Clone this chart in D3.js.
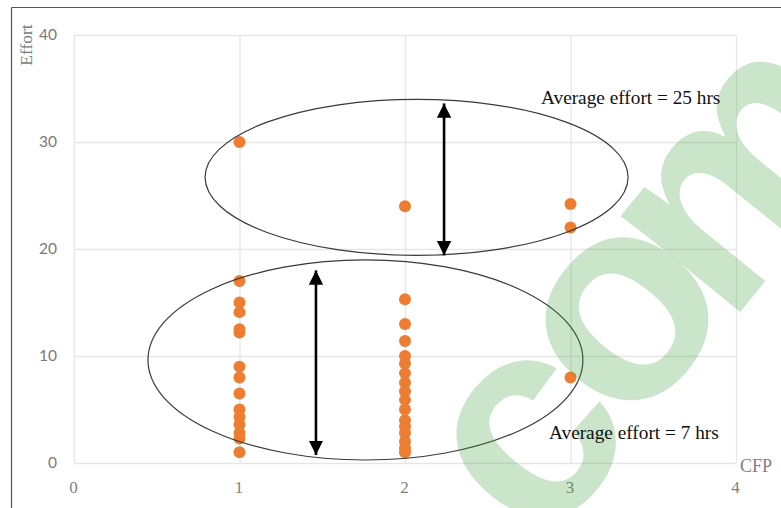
<!DOCTYPE html>
<html><head><meta charset="utf-8">
<script src="https://cdn.jsdelivr.net/npm/d3@7"></script>
<style>body{margin:0;background:#fff;}svg{display:block;}</style>
</head><body>
<svg id="c" width="781" height="508"></svg>
<script>
// ---- data ----
const xTicks = [0, 1, 2, 3, 4];
const yTicks = [0, 10, 20, 30, 40];
const cfp1 = [30, 17, 15, 14.1, 12.5, 12.2, 9, 8, 6.5, 5, 4.3, 3.6, 2.8, 2.3, 1];
const cfp2 = [24, 15.3, 13, 11.4, 10, 9.3, 8.4, 7.5, 6.7, 5.9, 5, 4, 3.4, 2.8, 2, 1.4, 1];
const cfp3 = [24.2, 22, 8];
const xLabel = "CFP";
const yLabel = "Effort";
const groups = [
  {cx: 2.07, cy: 26.7, rx: 1.278, ry: 7.29, arrowX: 2.236, y0: 19.4, y1: 33.6, label: "Average effort = 25 hrs"},
  {cx: 1.761, cy: 9.63, rx: 1.314, ry: 9.35, arrowX: 1.462, y0: 0.75, y1: 18.0, label: "Average effort = 7 hrs"}
];

const points = [
  ...cfp1.map(v => ({x: 1, y: v})),
  ...cfp2.map(v => ({x: 2, y: v})),
  ...cfp3.map(v => ({x: 3, y: v}))
];

const svg = d3.select("#c");
const m = {left: 74, top: 35, right: 45, bottom: 45};
const W = 781 - m.left - m.right, H = 508 - m.top - m.bottom;
const x = d3.scaleLinear().domain([0, 4]).range([0, W]);
const y = d3.scaleLinear().domain([0, 40]).range([H, 0]);

// frame
svg.append("line").attr("x1", 11.5).attr("x2", 11.5).attr("y1", 7.5).attr("y2", 508).attr("stroke", "#555").attr("stroke-width", 1.2);
svg.append("line").attr("x1", 11.5).attr("x2", 781).attr("y1", 7.5).attr("y2", 7.5).attr("stroke", "#555").attr("stroke-width", 1.2);

const g = svg.append("g").attr("transform", `translate(${m.left},${m.top})`);

// grid
const gy = g.append("g").call(d3.axisLeft(y).tickValues(yTicks).tickSize(-W).tickFormat(""));
gy.select(".domain").remove();
gy.selectAll("line").attr("stroke", "#e6e6e6").attr("stroke-width", 1.3);
const gx = g.append("g").attr("transform", `translate(0,${H})`).call(d3.axisBottom(x).tickValues(xTicks).tickSize(-H).tickFormat(""));
gx.select(".domain").remove();
gx.selectAll("line").attr("stroke", "#e6e6e6").attr("stroke-width", 1.3);

// tick labels
const ly = g.append("g").call(d3.axisLeft(y).tickValues(yTicks).tickSize(0).tickPadding(17).tickFormat(d3.format("d")));
ly.select(".domain").remove();
ly.selectAll("text").attr("font-family", "Lato, sans-serif").attr("font-size", 15.5).attr("fill", "#7a7a7a");
const lx = g.append("g").attr("transform", `translate(0,${H})`).call(d3.axisBottom(x).tickValues(xTicks).tickSize(0).tickPadding(18).tickFormat(d3.format("d")));
lx.select(".domain").remove();
lx.selectAll("text").attr("font-family", "'Liberation Serif', serif").attr("font-size", 17).attr("fill", "#7f7f7f").attr("dx", -1);

// axis titles
svg.append("text").attr("transform", "translate(32,45) rotate(-90)").attr("text-anchor", "middle")
  .attr("font-family", "'Liberation Serif', serif").attr("font-size", 17.5).attr("fill", "#7a7a7a").text(yLabel);
svg.append("text").attr("x", 740).attr("y", 472)
  .attr("font-family", "'Liberation Serif', serif").attr("font-size", 18).attr("fill", "#7f7f7f").text(xLabel);

// points
g.selectAll("circle.pt").data(points).join("circle").attr("class", "pt")
  .attr("cx", d => x(d.x)).attr("cy", d => y(d.y)).attr("r", 6).attr("fill", "#ed7d31");

// watermark
const WS = 290;
const wm = svg.append("g").attr("fill", "rgb(60,160,60)").attr("fill-opacity", 0.27)
  .attr("font-family", "'Liberation Sans', Arial, sans-serif").attr("font-weight", "bold").attr("font-size", WS);
[["c", 535, 442], ["o", 628, 320], ["m", 750, 180]].forEach(([t, px, py]) => {
  wm.append("text").attr("transform", `translate(${px},${py}) rotate(-51)`).attr("text-anchor", "middle")
    .attr("y", WS * 0.26).text(t);
});

// ellipses
const ann = g.append("g");
ann.selectAll("ellipse").data(groups).join("ellipse")
  .attr("cx", d => x(d.cx)).attr("cy", d => y(d.cy))
  .attr("rx", d => x(d.rx) - x(0)).attr("ry", d => y(0) - y(d.ry))
  .attr("fill", "none").attr("stroke", "#3a3a3a").attr("stroke-width", 1.2);

// arrows
svg.append("defs").append("marker").attr("id", "ah").attr("viewBox", "0 0 10 10")
  .attr("refX", 10).attr("refY", 5).attr("markerWidth", 5.5).attr("markerHeight", 5.5)
  .attr("markerUnits", "strokeWidth").attr("orient", "auto-start-reverse")
  .append("path").attr("d", "M0,0 L10,5 L0,10 Z").attr("fill", "#000");
ann.selectAll("line.arr").data(groups).join("line").attr("class", "arr")
  .attr("x1", d => x(d.arrowX)).attr("x2", d => x(d.arrowX))
  .attr("y1", d => y(d.y0)).attr("y2", d => y(d.y1))
  .attr("stroke", "#000").attr("stroke-width", 2.6)
  .attr("marker-start", "url(#ah)").attr("marker-end", "url(#ah)");

// labels
svg.append("text").attr("x", 541).attr("y", 104).attr("font-family", "'Liberation Serif', serif")
  .attr("font-size", 19.3).attr("fill", "#111").text(groups[0].label);
svg.append("text").attr("x", 549).attr("y", 439).attr("font-family", "'Liberation Serif', serif")
  .attr("font-size", 19.3).attr("fill", "#111").text(groups[1].label);
</script>
</body></html>
